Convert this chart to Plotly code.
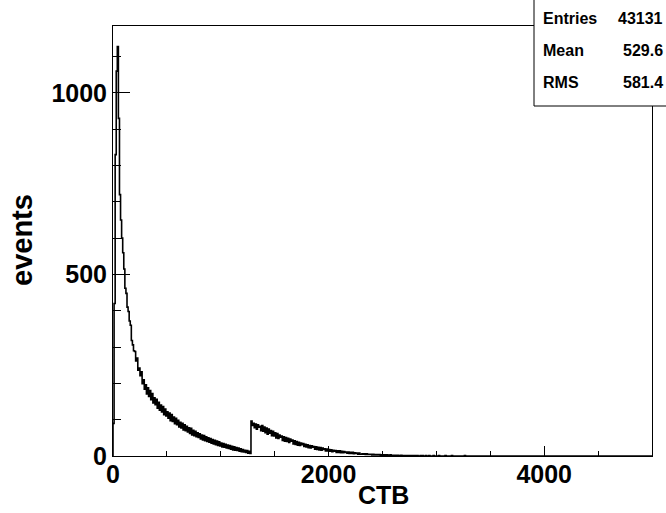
import numpy as np
import plotly.graph_objects as go

# Histogram definition (ROOT-style TH1): 500 bins from 0 to 5000
x_min, x_max, n_bins = 0, 5000, 500

# Bin contents (bins of width 10, starting at 0), one row per 100 units
counts_read = [
    90, 420, 830, 1060, 1128, 930, 720, 650, 600, 560,
    515, 462, 448, 410, 398, 372, 360, 318, 306, 290,
    288, 262, 270, 236, 242, 221, 232, 199, 210, 184,
    196, 171, 188, 164, 180, 155, 172, 146, 160, 141,
    156, 132, 148, 126, 140, 121, 136, 114, 129, 110,
    122, 104, 118, 97, 114, 95, 107, 89, 104, 86,
    98, 80, 93, 77, 90, 72, 86, 70, 82, 66,
    78, 62, 76, 58, 71, 56, 68, 53, 64, 51,
    61, 47, 58, 44, 56, 42, 53, 40, 50, 38,
    48, 35, 45, 33, 43, 31, 41, 29, 39, 28,
    36, 25, 34, 24, 32, 22, 30, 21, 29, 19,
    27, 17, 25, 16, 23, 15, 22, 13, 20, 12,
    18, 11, 16, 10, 15, 8, 13, 7, 96, 84,
    90, 78, 88, 74, 86, 79, 82, 70, 84, 68,
    80, 64, 77, 60, 74, 63, 70, 56, 68, 55,
    64, 50, 62, 48, 58, 52, 55, 43, 53, 41,
    51, 40, 49, 37, 47, 41, 44, 33, 42, 32,
    40, 30, 38, 29, 36, 31, 34, 26, 32, 25,
    31, 23, 29, 22, 28, 24, 26, 19, 25, 18,
    24, 17, 23, 16, 22, 18, 20, 14, 19, 14,
    18, 13, 17, 12, 16, 13, 15, 10, 14, 10,
    14, 9, 13, 9, 12, 10, 11, 8, 11, 7,
    10, 7, 10, 6, 9, 7, 8, 5, 8, 5,
    5, 6, 5, 6, 4, 6, 4, 5, 4, 5,
    3, 5, 3, 4, 3, 4, 3, 4, 2, 3,
    3, 2, 3, 2, 3, 2, 2, 3, 1, 2,
    2, 1, 2, 1, 2, 1, 1, 2, 1, 1,
    1, 1, 0, 1, 1, 0, 1, 1, 0, 1,
    1, 0, 1, 0, 0, 1, 0, 1, 0, 0,
    1, 0, 0, 1, 0, 0, 0, 1, 0, 0,
    0, 0, 1, 0, 0, 0, 0, 0, 1, 0,
    0, 0, 0, 0, 1, 0, 0, 0, 0, 0,
    0, 0, 0, 0, 0, 0, 1, 0, 0, 0,
]
# remaining bins up to 5000 are empty
counts = counts_read + [0] * (n_bins - len(counts_read))

x_title = "CTB"
y_title = "events"
stats_labels = ["Entries", "Mean", "RMS"]
stats_values = ["43131", "529.6", "581.4"]

edges = np.linspace(x_min, x_max, n_bins + 1)
xs = np.concatenate([[edges[0]], edges[:-1], [edges[-1]]])
ys = np.concatenate([[0], counts, [counts[-1]]])

FONT = "Liberation Sans, Arial, sans-serif"

fig = go.Figure()
fig.add_trace(go.Scatter(x=xs, y=ys, mode="lines", line=dict(color="black", width=1.6, shape="hv"),
                         hoverinfo="skip", showlegend=False))

y_max = 1.05 * max(counts)

fig.update_layout(
    width=666, height=513,
    margin=dict(l=113, r=14, t=26, b=57),
    paper_bgcolor="white", plot_bgcolor="white",
    font=dict(family=FONT, color="black"),
    xaxis=dict(range=[x_min, x_max], showgrid=False, zeroline=False, automargin=False,
               showline=True, mirror=True, linecolor="black", linewidth=1,
               ticks="inside", ticklen=10, tickwidth=1, tickcolor="black",
               dtick=2000, tick0=0, ticklabelstandoff=-4,
               minor=dict(dtick=500, ticks="inside", ticklen=5, tickcolor="black", showgrid=False),
               tickfont=dict(size=25, family=FONT, weight="bold")),
    yaxis=dict(range=[0, y_max], showgrid=False, zeroline=False, automargin=False,
               showline=True, mirror=True, linecolor="black", linewidth=1,
               ticks="inside", ticklen=17, tickwidth=1, tickcolor="black",
               dtick=500, tick0=0,
               minor=dict(dtick=100, ticks="inside", ticklen=8, tickcolor="black", showgrid=False),
               tickfont=dict(size=25, family=FONT, weight="bold")),
)

# pixel -> paper helpers (plot area: x 113..652, y 26..456)
px_w, px_h = 539.0, 430.0
def xp(px):
    return (px - 113) / px_w
def yp(py):
    return (456 - py) / px_h

# Axis titles
fig.add_annotation(xref="paper", yref="paper", x=xp(383), y=yp(495), text=x_title, showarrow=False,
                   xanchor="center", yanchor="middle", font=dict(size=25, family=FONT, weight="bold"))
fig.add_annotation(xref="paper", yref="paper", x=xp(22), y=yp(240), text=y_title, showarrow=False,
                   textangle=-90, xanchor="center", yanchor="middle",
                   font=dict(size=29, family=FONT, weight="bold"))

# Stats box
fig.add_shape(type="rect", xref="paper", yref="paper",
              x0=xp(534), x1=xp(667), y0=yp(106), y1=yp(-1),
              line=dict(color="black", width=1), fillcolor="white", layer="above")
rows_y = [18, 50, 82]
for lab, val, ry in zip(stats_labels, stats_values, rows_y):
    fig.add_annotation(xref="paper", yref="paper", x=xp(541), y=yp(ry), text=lab, showarrow=False,
                       xanchor="left", yanchor="middle", font=dict(size=16, family=FONT, weight="bold"))
    fig.add_annotation(xref="paper", yref="paper", x=xp(665), y=yp(ry), text=val, showarrow=False,
                       xanchor="right", yanchor="middle", font=dict(size=16, family=FONT, weight="bold"))

fig.write_html("out.html")
